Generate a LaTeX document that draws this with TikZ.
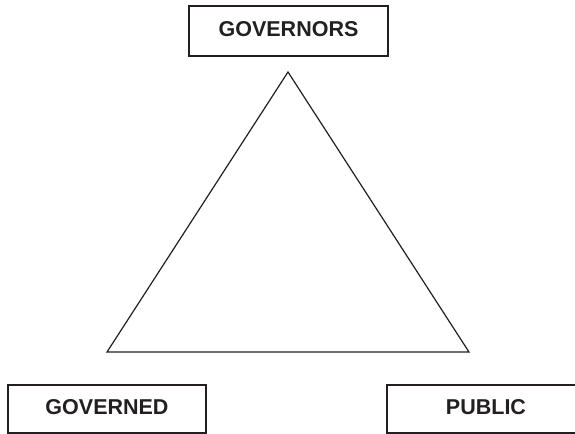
\documentclass[tikz,border=0pt]{standalone}
\usepackage{fontspec}
\setmainfont{Liberation Sans}
\usepackage{tikz}
\definecolor{InkBlack}{RGB}{35,31,32}
\usetikzlibrary{positioning}
\tikzset{
  % Role box
  rolebox/.style={
    rectangle,
    draw=InkBlack,
    line width=0.85pt,
    minimum width=99pt,
    minimum height=24pt,
    inner sep=0pt,
    text=InkBlack,
    text height=7.5pt,
    text depth=2.5pt,
    font=\fontsize{10.75}{12}\selectfont\bfseries
  },
  % Triangle side
  side/.style={
    draw=InkBlack,
    line width=0.6pt,
    line join=miter
  }
}

\begin{document}
\begin{tikzpicture}[x=0.5pt, y=-0.5pt]
  \useasboundingbox (0,0) rectangle (575,434);

  \node[rolebox, minimum width=99.5pt, minimum height=25pt] (governors) at (288.5, 31) {GOVERNORS};
  \node[rolebox] (governed) at (107, 409) {GOVERNED};
  \node[rolebox] (public)   at (486, 409) {PUBLIC};

  % Triangle corners
  \coordinate (apex)  at (288, 72);
  \coordinate (left)  at (107, 352);
  \coordinate (right) at (469, 352);

  \draw[side] (apex) -- (left) -- (right) -- cycle;
\end{tikzpicture}
\end{document}
